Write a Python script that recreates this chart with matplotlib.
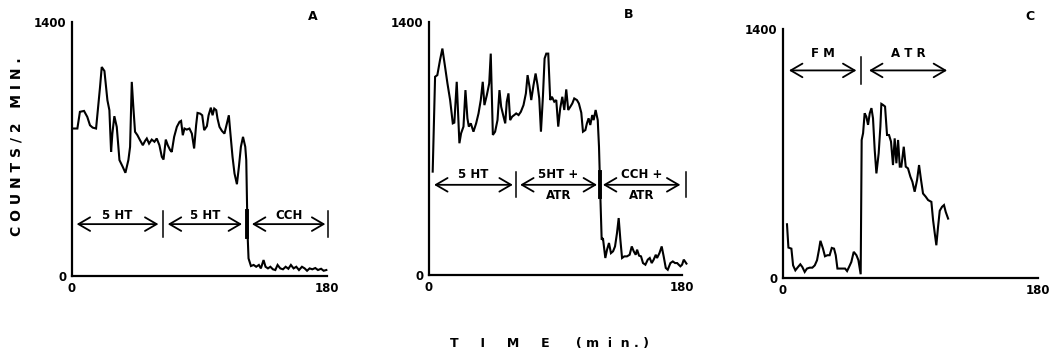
import numpy as np
import matplotlib
matplotlib.use("Agg")
import matplotlib.pyplot as plt

# panel A: 5HT, 5HT, CCH
a_time = [0.9, 3.8, 5.6, 8.5, 10.8, 12.7, 14.6, 17.0, 19.8, 21.0,
          22.9, 25.0, 26.4, 27.6, 28.5, 29.9, 31.6, 33.5, 35.8, 37.7,
          39.8, 41.0, 42.2, 43.3, 44.5, 46.2, 48.0, 50.0, 51.6, 52.8,
          54.4, 56.3, 58.2, 59.8, 61.7, 63.4, 64.6, 66.2, 67.6, 69.3,
          70.4, 72.1, 74.0, 75.9, 77.0, 78.2, 79.4, 81.0, 82.9, 84.6,
          86.2, 87.6, 88.6, 90.5, 91.9, 93.3, 95.2, 96.4, 98.0, 99.2,
          100.4, 101.8, 102.7, 104.1, 105.8, 107.6, 109.3, 110.7, 111.7, 113.3,
          114.7, 116.4, 117.8, 119.2, 120.7, 122.3, 123.0, 123.9, 124.6, 126.3,
          128.2, 130.0, 131.9, 133.3, 135.2, 136.6, 138.3, 140.0, 141.8, 143.5,
          145.1, 147.0, 148.9, 150.8, 152.7, 154.5, 156.4, 158.3, 160.2, 162.3,
          164.2, 165.9, 167.7, 169.6, 171.7, 173.6, 175.8, 177.6, 179.5]
a_counts = [813, 813, 905, 910, 877, 831, 818, 813, 1042, 1152,
            1130, 969, 914, 684, 785, 881, 822, 639, 602, 569,
            639, 712, 1070, 932, 795, 776, 749, 721, 745, 758,
            730, 752, 740, 758, 721, 657, 642, 752, 721, 694,
            684, 767, 822, 850, 855, 776, 813, 807, 813, 785,
            703, 831, 899, 895, 886, 804, 826, 886, 928, 886,
            923, 914, 868, 822, 800, 785, 840, 886, 795, 657,
            565, 506, 602, 712, 767, 712, 639, 235, 97, 55,
            61, 51, 61, 42, 88, 51, 42, 51, 37, 33,
            61, 42, 37, 51, 40, 61, 42, 51, 33, 51,
            42, 29, 42, 37, 44, 33, 40, 29, 33]

# panel B: 5HT, 5HT + ATR, CCH + ATR
b_time = [2.6, 4.3, 5.9, 7.8, 9.5, 11.4, 13.1, 15.0, 16.9, 18.0,
          19.7, 21.6, 22.8, 24.5, 25.9, 27.3, 28.3, 29.7, 31.6, 33.5,
          35.2, 36.8, 38.2, 39.4, 41.1, 42.8, 43.9, 45.4, 47.0, 48.7,
          50.1, 51.3, 53.0, 54.2, 55.3, 56.5, 57.7, 59.1, 60.6, 62.0,
          63.7, 65.3, 67.2, 68.9, 70.1, 71.5, 72.7, 74.3, 75.8, 77.2,
          78.4, 79.6, 81.0, 82.2, 83.4, 84.8, 86.2, 87.4, 89.1, 90.5,
          91.9, 93.3, 94.8, 96.2, 97.6, 99.0, 100.5, 101.9, 103.3, 105.2,
          106.6, 108.3, 109.5, 111.2, 112.3, 113.5, 114.7, 116.1, 117.1, 118.5,
          120.0, 120.9, 121.8, 122.8, 123.7, 125.4, 126.6, 128.0, 129.4, 130.9,
          132.3, 133.7, 134.9, 136.1, 137.3, 138.9, 140.8, 142.7, 144.2, 145.6,
          147.0, 148.0, 149.4, 150.8, 152.2, 153.9, 155.6, 157.0, 158.4, 159.8,
          161.3, 162.2, 163.9, 165.5, 166.9, 168.4, 169.8, 171.7, 173.4, 175.0,
          176.5, 177.6, 178.8, 180.0, 181.2, 183.1]
b_counts = [572, 1097, 1106, 1189, 1253, 1152, 1060, 968, 839, 843,
            1069, 729, 784, 821, 1023, 867, 821, 839, 793, 839,
            894, 968, 1069, 940, 995, 1060, 1225, 775, 793, 857,
            1023, 931, 876, 839, 959, 1005, 857, 876, 885, 894,
            885, 903, 940, 1005, 1106, 1041, 968, 1050, 1115, 1050,
            977, 793, 986, 1198, 1225, 1225, 968, 986, 959, 968,
            821, 922, 986, 913, 1027, 913, 931, 949, 977, 968,
            949, 898, 793, 802, 839, 867, 830, 885, 857, 913,
            857, 710, 453, 195, 204, 94, 140, 177, 121, 131,
            158, 232, 315, 195, 94, 103, 103, 112, 158, 131,
            112, 140, 107, 103, 66, 57, 85, 94, 66, 85,
            112, 94, 121, 158, 103, 39, 29, 66, 75, 66,
            66, 57, 48, 57, 85, 63]

# panel C: FM, ATR
c_time = [2.8, 3.8, 5.9, 7.1, 8.7, 10.6, 12.2, 13.6, 15.3, 16.9,
          18.8, 20.7, 22.4, 24.0, 25.4, 26.4, 28.2, 29.6, 31.3, 32.9,
          34.4, 36.0, 37.2, 38.4, 40.0, 41.9, 43.8, 45.2, 46.6, 48.2,
          49.9, 51.8, 53.2, 54.8, 55.5, 56.5, 57.6, 58.8, 60.0, 61.2,
          62.4, 63.5, 64.7, 65.9, 67.5, 68.7, 69.4, 70.6, 72.0, 73.4,
          74.8, 76.2, 77.6, 78.8, 80.0, 81.2, 82.4, 83.5, 85.2, 86.6,
          88.2, 89.9, 91.3, 92.9, 94.6, 96.0, 97.4, 98.8, 100.7, 102.4,
          104.7, 105.9, 107.1, 108.2, 109.4, 110.6, 112.2, 113.6, 114.8, 116.5]
c_counts = [302, 171, 165, 71, 43, 62, 77, 62, 34, 53,
            58, 58, 71, 100, 160, 209, 165, 122, 128, 128,
            169, 165, 128, 53, 53, 53, 53, 39, 62, 90,
            147, 128, 100, 21, 776, 814, 926, 907, 861, 926,
            955, 898, 720, 588, 701, 851, 979, 973, 964, 804,
            804, 767, 635, 785, 645, 776, 626, 626, 738, 626,
            616, 569, 541, 485, 551, 635, 551, 475, 457, 438,
            428, 325, 250, 184, 287, 378, 400, 410, 372, 334]

# treatment periods: (start, end) of arrows, divider times, labels
a_spans = [(3.3, 61), (67.6, 120), (127, 178.8)]
a_dividers = [64, 123.5, 180.7]
a_labels = ["5 HT", "5 HT", "CCH"]
b_spans = [(3.6, 59.6), (64.8, 119.5), (123.7, 178.8)]
b_dividers = [62, 121.4, 183]
b_labels = ["5 HT", "5HT +\nATR", "CCH +\nATR"]
c_spans = [(4.2, 51.8), (60.7, 115.8)]
c_dividers = [55]
c_labels = ["F M", "A T R"]

plt.rcParams['font.family'] = "DejaVu Sans"
plt.rcParams['font.weight'] = 'bold'

fig = plt.figure(figsize=(10.57, 3.53), dpi=100)

# axes boxes in figure fractions
ax_a = fig.add_axes([0.0681, 0.2181, 0.2413, 0.7195])
ax_b = fig.add_axes([0.4059, 0.2210, 0.2394, 0.7167])
ax_c = fig.add_axes([0.7408, 0.2125, 0.2413, 0.7054])


def draw_panel(ax, t, y, spans, dividers, labels, arrow_y, label_y, div_half,
               letter, letter_xy, thick=None):
    ax.plot(t, y, color='black', lw=1.5, clip_on=False, solid_joinstyle='miter')
    ax.set_xlim(0, 180)
    ax.set_ylim(0, 1400)
    for s in ['top', 'right']:
        ax.spines[s].set_visible(False)
    for s in ['left', 'bottom']:
        ax.spines[s].set_linewidth(1.6)
    ax.set_xticks([0, 180])
    ax.set_yticks([0, 1400])
    ax.set_xticklabels(['0', '180'])
    ax.set_yticklabels(['0', '1400'])
    ax.tick_params(length=0, labelsize=8.5, pad=4)

    for (x0, x1), lab in zip(spans, labels):
        ax.annotate('', xy=(x1, arrow_y), xytext=(x0, arrow_y),
                    arrowprops=dict(arrowstyle='<->,head_length=0.6,head_width=0.35',
                                    lw=1.3, color='black', shrinkA=0, shrinkB=0,
                                    mutation_scale=14),
                    annotation_clip=False)
        xm = (x0 + x1) / 2
        if '\n' in lab:
            top, bot = lab.split('\n')
            ax.text(xm, arrow_y + 58, top, ha='center', va='center', fontsize=8.5)
            ax.text(xm, arrow_y - 58, bot, ha='center', va='center', fontsize=8.5)
        else:
            ax.text(xm, label_y, lab, ha='center', va='center', fontsize=8.5)
    for i, d in enumerate(dividers):
        lw = 2.8 if (thick is not None and i == thick) else 1.1
        ax.plot([d, d], [arrow_y - div_half, arrow_y + div_half], color='black',
                lw=lw, clip_on=False)
    ax.text(letter_xy[0], letter_xy[1], letter, transform=ax.transAxes,
            ha='center', va='center', fontsize=9)


draw_panel(ax_a, a_time, a_counts, a_spans, a_dividers, a_labels,
           arrow_y=286, label_y=335, div_half=70, letter='A',
           letter_xy=(0.945, 1.02), thick=1)
draw_panel(ax_b, b_time, b_counts, b_spans, b_dividers, b_labels,
           arrow_y=499, label_y=555, div_half=70, letter='B',
           letter_xy=(0.79, 1.03), thick=1)
draw_panel(ax_c, c_time, c_counts, c_spans, c_dividers, c_labels,
           arrow_y=1167, label_y=1260, div_half=75, letter='C',
           letter_xy=(0.97, 1.05))

fig.text(0.016, 0.584, 'C O U N T S / 2   M I N .', rotation=90,
         ha='center', va='center', fontsize=10)
fig.text(0.52, 0.028, 'T     I     M     E      ( m  i  n . )',
         ha='center', va='center', fontsize=9)

fig.savefig('out.png', dpi=100)
